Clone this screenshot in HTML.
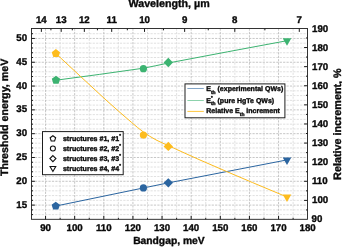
<!DOCTYPE html><html><head><meta charset="utf-8"><title>plot</title><style>html,body{margin:0;padding:0;background:#fff;}svg{display:block;will-change:transform;transform:translateZ(0);}text{font-family:"Liberation Sans",sans-serif;font-weight:bold;fill:#0a0a0a;stroke:#0a0a0a;stroke-width:0.36px;stroke-linejoin:round;text-rendering:geometricPrecision;}</style></head><body>
<svg width="342" height="247" viewBox="0 0 342 247">
<rect width="342" height="247" fill="#fff"/>
<g stroke-width="0.8" stroke-dasharray="2.2 1.2" fill="none"><line x1="31.5" x2="307.5" y1="214.62" y2="214.62" stroke="#d8d8d8"/><line x1="31.5" x2="307.5" y1="209.86" y2="209.86" stroke="#d8d8d8"/><line x1="31.5" x2="307.5" y1="205.1" y2="205.1" stroke="#b8b8b8"/><line x1="31.5" x2="307.5" y1="200.34" y2="200.34" stroke="#d8d8d8"/><line x1="31.5" x2="307.5" y1="195.58" y2="195.58" stroke="#d8d8d8"/><line x1="31.5" x2="307.5" y1="190.82" y2="190.82" stroke="#d8d8d8"/><line x1="31.5" x2="307.5" y1="186.05" y2="186.05" stroke="#d8d8d8"/><line x1="31.5" x2="307.5" y1="181.29" y2="181.29" stroke="#b8b8b8"/><line x1="31.5" x2="307.5" y1="176.53" y2="176.53" stroke="#d8d8d8"/><line x1="31.5" x2="307.5" y1="171.77" y2="171.77" stroke="#d8d8d8"/><line x1="31.5" x2="307.5" y1="167.01" y2="167.01" stroke="#d8d8d8"/><line x1="31.5" x2="307.5" y1="162.25" y2="162.25" stroke="#d8d8d8"/><line x1="31.5" x2="307.5" y1="157.49" y2="157.49" stroke="#b8b8b8"/><line x1="31.5" x2="307.5" y1="152.72" y2="152.72" stroke="#d8d8d8"/><line x1="31.5" x2="307.5" y1="147.96" y2="147.96" stroke="#d8d8d8"/><line x1="31.5" x2="307.5" y1="143.2" y2="143.2" stroke="#d8d8d8"/><line x1="31.5" x2="307.5" y1="138.44" y2="138.44" stroke="#d8d8d8"/><line x1="31.5" x2="307.5" y1="133.68" y2="133.68" stroke="#b8b8b8"/><line x1="31.5" x2="307.5" y1="128.92" y2="128.92" stroke="#d8d8d8"/><line x1="31.5" x2="307.5" y1="124.16" y2="124.16" stroke="#d8d8d8"/><line x1="31.5" x2="307.5" y1="119.39" y2="119.39" stroke="#d8d8d8"/><line x1="31.5" x2="307.5" y1="114.63" y2="114.63" stroke="#d8d8d8"/><line x1="31.5" x2="307.5" y1="109.87" y2="109.87" stroke="#b8b8b8"/><line x1="31.5" x2="307.5" y1="105.11" y2="105.11" stroke="#d8d8d8"/><line x1="31.5" x2="307.5" y1="100.35" y2="100.35" stroke="#d8d8d8"/><line x1="31.5" x2="307.5" y1="95.59" y2="95.59" stroke="#d8d8d8"/><line x1="31.5" x2="307.5" y1="90.83" y2="90.83" stroke="#d8d8d8"/><line x1="31.5" x2="307.5" y1="86.06" y2="86.06" stroke="#b8b8b8"/><line x1="31.5" x2="307.5" y1="81.3" y2="81.3" stroke="#d8d8d8"/><line x1="31.5" x2="307.5" y1="76.54" y2="76.54" stroke="#d8d8d8"/><line x1="31.5" x2="307.5" y1="71.78" y2="71.78" stroke="#d8d8d8"/><line x1="31.5" x2="307.5" y1="67.02" y2="67.02" stroke="#d8d8d8"/><line x1="31.5" x2="307.5" y1="62.26" y2="62.26" stroke="#b8b8b8"/><line x1="31.5" x2="307.5" y1="57.5" y2="57.5" stroke="#d8d8d8"/><line x1="31.5" x2="307.5" y1="52.74" y2="52.74" stroke="#d8d8d8"/><line x1="31.5" x2="307.5" y1="47.97" y2="47.97" stroke="#d8d8d8"/><line x1="31.5" x2="307.5" y1="43.21" y2="43.21" stroke="#d8d8d8"/><line x1="31.5" x2="307.5" y1="38.45" y2="38.45" stroke="#b8b8b8"/><line x1="31.5" x2="307.5" y1="33.69" y2="33.69" stroke="#d8d8d8"/><line x1="45.55" x2="45.55" y1="28.5" y2="219.3" stroke="#b8b8b8"/><line x1="60.11" x2="60.11" y1="28.5" y2="219.3" stroke="#d8d8d8"/><line x1="74.67" x2="74.67" y1="28.5" y2="219.3" stroke="#b8b8b8"/><line x1="89.24" x2="89.24" y1="28.5" y2="219.3" stroke="#d8d8d8"/><line x1="103.8" x2="103.8" y1="28.5" y2="219.3" stroke="#b8b8b8"/><line x1="118.36" x2="118.36" y1="28.5" y2="219.3" stroke="#d8d8d8"/><line x1="132.93" x2="132.93" y1="28.5" y2="219.3" stroke="#b8b8b8"/><line x1="147.49" x2="147.49" y1="28.5" y2="219.3" stroke="#d8d8d8"/><line x1="162.05" x2="162.05" y1="28.5" y2="219.3" stroke="#b8b8b8"/><line x1="176.61" x2="176.61" y1="28.5" y2="219.3" stroke="#d8d8d8"/><line x1="191.18" x2="191.18" y1="28.5" y2="219.3" stroke="#b8b8b8"/><line x1="205.74" x2="205.74" y1="28.5" y2="219.3" stroke="#d8d8d8"/><line x1="220.3" x2="220.3" y1="28.5" y2="219.3" stroke="#b8b8b8"/><line x1="234.86" x2="234.86" y1="28.5" y2="219.3" stroke="#d8d8d8"/><line x1="249.43" x2="249.43" y1="28.5" y2="219.3" stroke="#b8b8b8"/><line x1="263.99" x2="263.99" y1="28.5" y2="219.3" stroke="#d8d8d8"/><line x1="278.55" x2="278.55" y1="28.5" y2="219.3" stroke="#b8b8b8"/><line x1="293.11" x2="293.11" y1="28.5" y2="219.3" stroke="#d8d8d8"/></g>
<path d="M55.74 206.05 C84.97 200.02 114.19 193.98 143.41 187.96 C151.71 186.25 160.01 184.49 168.31 182.86 C207.87 175.14 247.43 167.56 287 159.91" fill="none" stroke="#2b65a0" stroke-width="1"/>
<g fill="#2b65a0"><polygon points="55.74,201.65 59.93,204.69 58.33,209.61 53.16,209.61 51.56,204.69"/><circle cx="143.41" cy="187.96" r="3.6"/><polygon points="168.31,178.16 173.01,182.86 168.31,187.56 163.61,182.86"/><polygon points="282.67,157.41 291.33,157.41 287,164.91"/></g>
<path d="M55.98 80.21 C85.12 76.2 114.27 72.65 143.41 68.19 C151.71 66.91 160.01 64.59 168.31 63 C207.87 55.42 247.43 48.12 287 40.69" fill="none" stroke="#3cb371" stroke-width="1"/>
<g fill="#3cb371"><polygon points="55.98,75.81 60.16,78.85 58.56,83.77 53.39,83.77 51.79,78.85"/><circle cx="143.41" cy="68.69" r="3.6"/><polygon points="168.31,57.8 173.01,62.5 168.31,67.2 163.61,62.5"/><polygon points="282.67,38.19 291.33,38.19 287,45.69"/></g>
<path d="M55.89 53.5 C72.59 69 89.3 84.78 106 100 C114.43 107.68 122.87 114.98 131.3 122.2 C135.37 125.68 139.43 129.19 143.5 132.1 C147.67 135.09 151.83 137.63 156 139.9 C160.1 142.13 164.2 143.73 168.3 145.6 C178.87 150.43 189.43 155.36 200 160 C217.53 167.7 235.07 175.14 252.6 182.6 C264.07 187.48 275.53 192.21 287 197.02" fill="none" stroke="#fdbc1e" stroke-width="1"/>
<g fill="#fdbc1e"><polygon points="55.89,49.1 60.07,52.14 58.48,57.06 53.3,57.06 51.7,52.14"/><circle cx="143.41" cy="135.04" r="3.6"/><polygon points="168.31,141.71 173.01,146.41 168.31,151.11 163.61,146.41"/><polygon points="282.67,194.52 291.33,194.52 287,202.02"/></g>
<path d="M31.5 214.62h1.5M31.5 209.86h1.5M31.5 205.1h3.4M31.5 200.34h1.5M31.5 195.58h1.5M31.5 190.82h1.5M31.5 186.05h1.5M31.5 181.29h3.4M31.5 176.53h1.5M31.5 171.77h1.5M31.5 167.01h1.5M31.5 162.25h1.5M31.5 157.49h3.4M31.5 152.72h1.5M31.5 147.96h1.5M31.5 143.2h1.5M31.5 138.44h1.5M31.5 133.68h3.4M31.5 128.92h1.5M31.5 124.16h1.5M31.5 119.39h1.5M31.5 114.63h1.5M31.5 109.87h3.4M31.5 105.11h1.5M31.5 100.35h1.5M31.5 95.59h1.5M31.5 90.83h1.5M31.5 86.06h3.4M31.5 81.3h1.5M31.5 76.54h1.5M31.5 71.78h1.5M31.5 67.02h1.5M31.5 62.26h3.4M31.5 57.5h1.5M31.5 52.74h1.5M31.5 47.97h1.5M31.5 43.21h1.5M31.5 38.45h3.4M31.5 33.69h1.5M307.5 209.96h-1.5M307.5 200.4h-3.4M307.5 190.84h-1.5M307.5 181.29h-3.4M307.5 171.74h-1.5M307.5 162.18h-3.4M307.5 152.62h-1.5M307.5 143.07h-3.4M307.5 133.51h-1.5M307.5 123.96h-3.4M307.5 114.41h-1.5M307.5 104.85h-3.4M307.5 95.3h-1.5M307.5 85.74h-3.4M307.5 76.19h-1.5M307.5 66.63h-3.4M307.5 57.08h-1.5M307.5 47.52h-3.4M307.5 37.97h-1.5M45.55 219.3v-3.4M60.11 219.3v-1.5M74.67 219.3v-3.4M89.24 219.3v-1.5M103.8 219.3v-3.4M118.36 219.3v-1.5M132.93 219.3v-3.4M147.49 219.3v-1.5M162.05 219.3v-3.4M176.61 219.3v-1.5M191.18 219.3v-3.4M205.74 219.3v-1.5M220.3 219.3v-3.4M234.86 219.3v-1.5M249.43 219.3v-3.4M263.99 219.3v-1.5M278.55 219.3v-3.4M293.11 219.3v-1.5M41.36 28.5v3.4M50.91 28.5v1.8M61.2 28.5v3.4M72.31 28.5v1.8M84.34 28.5v3.4M97.43 28.5v1.8M111.7 28.5v3.4M127.33 28.5v1.8M144.53 28.5v3.4M163.53 28.5v1.8M184.65 28.5v3.4M208.25 28.5v1.8M234.8 28.5v3.4M264.9 28.5v1.8M299.29 28.5v3.4" stroke="#1a1a1a" stroke-width="1" fill="none"/>
<rect x="31.5" y="28.5" width="276" height="190.8" fill="none" stroke="#1e1e1e" stroke-width="0.9"/>
<text x="27.1" y="207.85" font-size="9.7" text-anchor="end">15</text>
<text x="27.1" y="183.99" font-size="9.7" text-anchor="end">20</text>
<text x="27.1" y="160.13" font-size="9.7" text-anchor="end">25</text>
<text x="27.1" y="136.27" font-size="9.7" text-anchor="end">30</text>
<text x="27.1" y="112.41" font-size="9.7" text-anchor="end">35</text>
<text x="27.1" y="88.55" font-size="9.7" text-anchor="end">40</text>
<text x="27.1" y="64.69" font-size="9.7" text-anchor="end">45</text>
<text x="27.1" y="40.83" font-size="9.7" text-anchor="end">50</text>
<text x="311.5" y="221.86" font-size="9.7">90</text>
<text x="312" y="202.85" font-size="9.7">100</text>
<text x="312" y="183.84" font-size="9.7">110</text>
<text x="312" y="164.83" font-size="9.7">120</text>
<text x="312" y="145.82" font-size="9.7">130</text>
<text x="312" y="126.81" font-size="9.7">140</text>
<text x="312" y="107.8" font-size="9.7">150</text>
<text x="312" y="88.79" font-size="9.7">160</text>
<text x="312" y="69.78" font-size="9.7">170</text>
<text x="312" y="50.77" font-size="9.7">180</text>
<text x="312" y="31.76" font-size="9.7">190</text>
<text x="45.55" y="230.5" font-size="9.7" text-anchor="middle">90</text>
<text x="74.67" y="230.5" font-size="9.7" text-anchor="middle">100</text>
<text x="103.8" y="230.5" font-size="9.7" text-anchor="middle">110</text>
<text x="132.93" y="230.5" font-size="9.7" text-anchor="middle">120</text>
<text x="162.05" y="230.5" font-size="9.7" text-anchor="middle">130</text>
<text x="191.18" y="230.5" font-size="9.7" text-anchor="middle">140</text>
<text x="220.3" y="230.5" font-size="9.7" text-anchor="middle">150</text>
<text x="249.43" y="230.5" font-size="9.7" text-anchor="middle">160</text>
<text x="278.55" y="230.5" font-size="9.7" text-anchor="middle">170</text>
<text x="307.68" y="230.5" font-size="9.7" text-anchor="middle">180</text>
<text x="299.29" y="23.0" font-size="9.7" text-anchor="middle">7</text>
<text x="234.8" y="23.0" font-size="9.7" text-anchor="middle">8</text>
<text x="184.65" y="23.0" font-size="9.7" text-anchor="middle">9</text>
<text x="144.53" y="23.0" font-size="9.7" text-anchor="middle">10</text>
<text x="111.7" y="23.0" font-size="9.7" text-anchor="middle">11</text>
<text x="84.34" y="23.0" font-size="9.7" text-anchor="middle">12</text>
<text x="61.2" y="23.0" font-size="9.7" text-anchor="middle">13</text>
<text x="41.36" y="23.0" font-size="9.7" text-anchor="middle">14</text>
<text x="169.1" y="7.4" font-size="10.7" text-anchor="middle">Wavelength, µm</text>
<text x="168.9" y="244.1" font-size="10.3" text-anchor="middle">Bandgap, meV</text>
<text transform="translate(7.7 117.4) rotate(-90)" font-size="10.7" text-anchor="middle">Threshold energy, meV</text>
<text transform="translate(340.7 124.1) rotate(-90)" font-size="10.8" text-anchor="middle">Relative increment, %</text>
<rect x="42.5" y="131.6" width="80.7" height="43.1" fill="#fff" stroke="#1e1e1e" stroke-width="1"/>
<g fill="#fff" stroke="#111" stroke-width="1.1"><polygon points="52.9,135.7 55.66,137.7 54.6,140.95 51.2,140.95 50.14,137.7"/><circle cx="52.9" cy="148.5" r="2.5"/><polygon points="52.9,155.6 55.9,158.6 52.9,161.6 49.9,158.6"/><polygon points="50.04,166.55 55.76,166.55 52.9,171.5"/></g>
<text x="62.9" y="140.8" font-size="7.08">structures #1, #1<tspan font-size="4.3" dy="-3.7">*</tspan></text>
<text x="62.9" y="150.9" font-size="7.08">structures #2, #2<tspan font-size="4.3" dy="-3.7">*</tspan></text>
<text x="62.9" y="161" font-size="7.08">structures #3, #3<tspan font-size="4.3" dy="-3.7">*</tspan></text>
<text x="62.9" y="171.1" font-size="7.08">structures #4, #4<tspan font-size="4.3" dy="-3.7">*</tspan></text>
<rect x="185" y="83.9" width="99.9" height="33.9" fill="#fff" stroke="#1e1e1e" stroke-width="1"/>
<line x1="187.4" x2="203.8" y1="88.5" y2="88.5" stroke="#2b65a0" stroke-width="1" opacity="0.58"/>
<line x1="187.4" x2="203.8" y1="100.5" y2="100.5" stroke="#3cb371" stroke-width="1" opacity="0.58"/>
<line x1="187.4" x2="203.8" y1="111.4" y2="111.4" stroke="#fdbc1e" stroke-width="1" opacity="0.85"/>
<text x="206.3" y="91.3" font-size="7">E<tspan font-size="4.9" dy="2.7">th</tspan><tspan dy="-2.7"> (experimental QWs)</tspan></text>
<text x="206.3" y="102.6" font-size="7">E<tspan font-size="4.9" dy="2.7">th</tspan><tspan dy="-2.7"> (pure HgTe QWs)</tspan></text>
<text x="211.1" y="98.6" font-size="4.3">*</text>
<text x="206.3" y="113.1" font-size="7">Relative E<tspan font-size="4.9" dy="2.7">th</tspan><tspan dy="-2.7"> increment</tspan></text>
</svg></body></html>
